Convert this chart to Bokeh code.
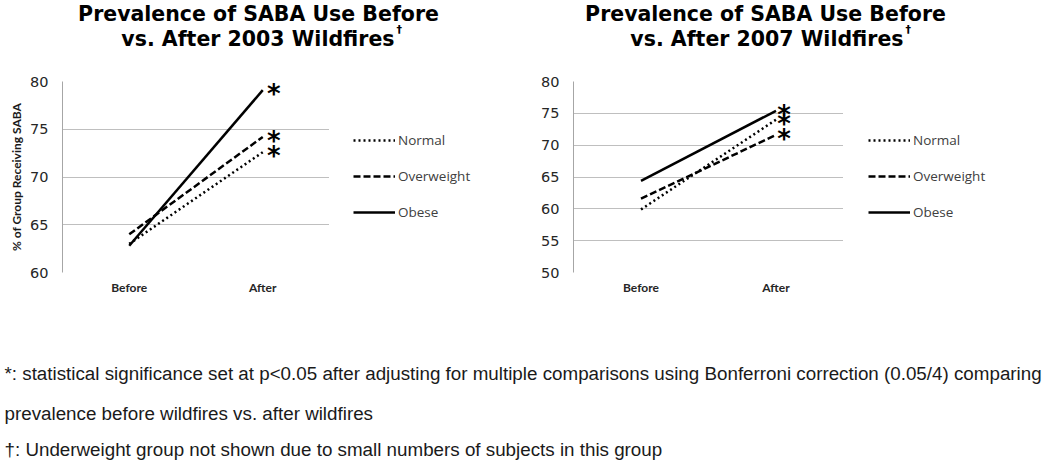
from bokeh.plotting import figure
from bokeh.models import (FactorRange, Range1d, SingleIntervalTicker, Label,
                          Legend, LegendItem, ColumnDataSource)
from bokeh.layouts import column, row
from bokeh.embed import file_html
from bokeh.resources import INLINE
from bokeh.core.properties import value

# ---------------- data ----------------
categories = ["Before", "After"]
group_names = ["Normal", "Overweight", "Obese"]

normal_2003 = [63.0, 72.6]
overweight_2003 = [64.0, 74.2]
obese_2003 = [62.8, 79.1]

normal_2007 = [59.9, 74.0]
overweight_2007 = [61.6, 71.6]
obese_2007 = [64.4, 75.4]

y_limits_2003 = [60, 80]
y_limits_2007 = [50, 80]

title_line1 = "Prevalence of SABA Use Before"
title_line2_2003 = "vs. After 2003 Wildfires"
title_line2_2007 = "vs. After 2007 Wildfires"
y_axis_label = "% of Group Receiving SABA"

footnotes = [
    "*: statistical significance set at p<0.05 after adjusting for multiple comparisons using Bonferroni correction (0.05/4) comparing",
    "prevalence before wildfires vs. after wildfires",
    "\u2020: Underweight group not shown due to small numbers of subjects in this group",
]

# ---------------- styles ----------------
line_styles = {
    "Normal": dict(line_dash="2 3", line_width=2.5),
    "Overweight": dict(line_dash="7 3", line_width=2.5),
    "Obese": dict(line_dash="solid", line_width=2.5),
}
GRID = "#bfbfbf"
TXT = "#404040"
CHART_H = 243


def blank(width, height):
    f = figure(width=width, height=height, output_backend="svg", toolbar_location=None,
               x_range=Range1d(0, 1), y_range=Range1d(0, 1),
               min_border_left=0, min_border_right=0, min_border_top=0, min_border_bottom=0)
    f.axis.visible = False
    f.grid.visible = False
    f.outline_line_color = None
    f.background_fill_color = "white"
    f.border_fill_color = "white"
    return f


def make_title(width, cx, line2, line2_right):
    t = blank(width, 70)
    t.add_layout(Label(x=cx, y=57, x_units="screen", y_units="screen",
                       text=title_line1, text_align="center", text_baseline="alphabetic",
                       text_font="DejaVu Sans", text_font_style="bold",
                       text_font_size="20.5px", text_color="black"))
    t.add_layout(Label(x=line2_right, y=32, x_units="screen", y_units="screen",
                       text=line2, text_align="right", text_baseline="alphabetic",
                       text_font="DejaVu Sans", text_font_style="bold",
                       text_font_size="20.5px", text_color="black"))
    t.add_layout(Label(x=line2_right + 2, y=41, x_units="screen", y_units="screen",
                       text="\u2020", text_align="left", text_baseline="alphabetic",
                       text_font="DejaVu Sans", text_font_style="bold",
                       text_font_size="11px", text_color="black"))
    return t


def make_chart(series, yr, width, border_left, show_label, star_dx):
    p = figure(width=width, height=CHART_H, output_backend="svg", toolbar_location=None,
               x_range=FactorRange(*categories, range_padding=0),
               y_range=Range1d(yr[0], yr[1]),
               min_border_left=border_left, min_border_right=0,
               min_border_top=11, min_border_bottom=41)
    p.outline_line_color = None
    p.background_fill_color = "white"
    p.border_fill_color = "white"

    p.xgrid.grid_line_color = None
    p.ygrid.grid_line_color = GRID
    p.ygrid.grid_line_width = 1

    p.yaxis.ticker = SingleIntervalTicker(interval=5)
    p.yaxis.axis_line_color = "#a6a6a6"
    p.yaxis.major_tick_line_color = None
    p.yaxis.minor_tick_line_color = None
    p.yaxis.major_label_standoff = 8
    p.yaxis.major_label_text_font = "DejaVu Sans"
    p.yaxis.major_label_text_font_size = "14.5px"
    p.yaxis.major_label_text_color = "#262626"
    if show_label:
        p.yaxis.axis_label = y_axis_label
        p.yaxis.axis_label_text_font = "Lato"
        p.yaxis.axis_label_text_font_style = "bold"
        p.yaxis.axis_label_text_font_size = "12px"
        p.yaxis.axis_label_text_color = "#1a1a1a"
        p.yaxis.axis_label_standoff = 3

    p.xaxis.axis_line_color = None
    p.xaxis.major_tick_line_color = None
    p.xaxis.minor_tick_line_color = None
    p.xaxis.major_label_standoff = 1
    p.xaxis.major_label_text_font = "Lato"
    p.xaxis.major_label_text_font_style = "bold"
    p.xaxis.major_label_text_font_size = "12px"
    p.xaxis.major_label_text_color = "#262626"

    for name, vals in zip(group_names, series):
        p.line(categories, vals, line_color="black", **line_styles[name])

    # significance asterisks at the "After" points
    star_src = ColumnDataSource(dict(x=[categories[1]] * len(series),
                                     y=[s[1] for s in series],
                                     t=["*"] * len(series)))
    p.text(x="x", y="y", text="t", source=star_src, text_align="center",
           text_baseline="alphabetic", text_font=value("DejaVu Sans"),
           text_font_style="bold", text_font_size="26px", text_color="black",
           x_offset=star_dx, y_offset=4)
    return p


def make_legend(width, x0):
    f = blank(width, CHART_H)
    items = []
    for name in group_names:
        # off-range stand-in renderers that only supply the legend samples
        r = f.line(x=[-5, -4], y=[-5, -5], line_color="black", **line_styles[name])
        items.append(LegendItem(label=name, renderers=[r]))
    legend = Legend(items=items, location=(x0, 50), orientation="vertical",
                    glyph_width=42, glyph_height=20, label_height=20, spacing=16,
                    padding=0, margin=0, label_standoff=3,
                    border_line_color=None, background_fill_alpha=0,
                    label_text_font="Open Sans", label_text_font_size="13.5px",
                    label_text_color=TXT)
    f.add_layout(legend, "center")
    return f


title1 = make_title(520, 258, title_line2_2003, 394)
title2 = make_title(526, 245, title_line2_2007, 383)

chart1 = make_chart([normal_2003, overweight_2003, obese_2003], y_limits_2003,
                    width=329, border_left=62, show_label=True, star_dx=11)
legend1 = make_legend(191, 24)
chart2 = make_chart([normal_2007, overweight_2007, obese_2007], y_limits_2007,
                    width=323, border_left=53, show_label=False, star_dx=8)
legend2 = make_legend(203, 25)

notes = blank(1046, 147)
for txt, ypage in zip(footnotes, [373, 413, 449]):
    notes.add_layout(Label(x=4, y=460 - ypage, x_units="screen", y_units="screen",
                           text=txt, text_align="left", text_baseline="middle",
                           text_font="Liberation Sans", text_font_size="18.8px",
                           text_color="#1a1a1a"))

layout = column(row(title1, title2),
                row(chart1, legend1, chart2, legend2),
                notes)
open("out.html", "w").write(file_html(layout, INLINE))
